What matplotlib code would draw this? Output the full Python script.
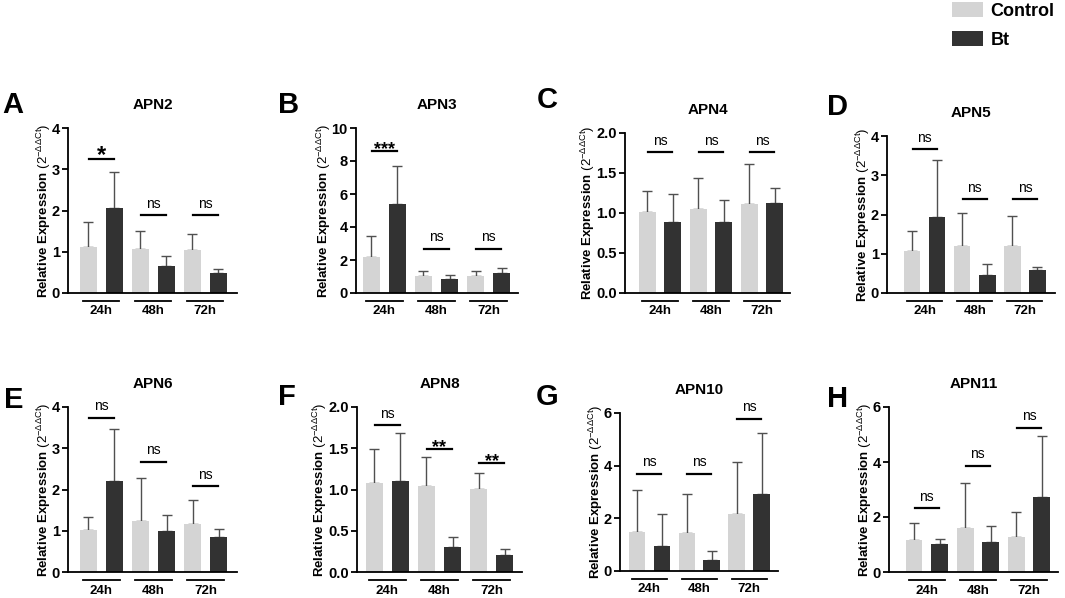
import matplotlib
matplotlib.use('Agg')
import matplotlib.pyplot as plt
from matplotlib.transforms import blended_transform_factory, offset_copy
import numpy as np

plt.rcParams['font.family'] = ['Liberation Sans', 'DejaVu Sans']
plt.rcParams['mathtext.fontset'] = 'custom'
plt.rcParams['mathtext.rm'] = 'Liberation Sans'
plt.rcParams['mathtext.bf'] = 'Liberation Sans:bold'
plt.rcParams['mathtext.it'] = 'Liberation Sans:italic'

# ---------------- data ----------------
times = ['24h', '48h', '72h']
genes = ['APN2', 'APN3', 'APN4', 'APN5', 'APN6', 'APN8', 'APN10', 'APN11']
letters = ['A', 'B', 'C', 'D', 'E', 'F', 'G', 'H']

control_mean = [
    [1.12, 1.06, 1.05],
    [2.18, 1.01, 1.01],
    [1.01, 1.05, 1.11],
    [1.08, 1.19, 1.20],
    [1.03, 1.24, 1.16],
    [1.08, 1.04, 1.01],
    [1.48, 1.44, 2.15],
    [1.15, 1.59, 1.27],
]
control_top = [
    [1.71, 1.50, 1.43],
    [3.43, 1.31, 1.35],
    [1.28, 1.44, 1.61],
    [1.58, 2.03, 1.95],
    [1.33, 2.29, 1.75],
    [1.49, 1.39, 1.20],
    [3.06, 2.91, 4.14],
    [1.78, 3.25, 2.20],
]
bt_mean = [
    [2.06, 0.66, 0.48],
    [5.41, 0.87, 1.23],
    [0.89, 0.89, 1.13],
    [1.93, 0.47, 0.58],
    [2.21, 0.99, 0.86],
    [1.10, 0.30, 0.21],
    [0.94, 0.43, 2.94],
    [1.01, 1.09, 2.71],
]
bt_top = [
    [2.93, 0.90, 0.58],
    [7.70, 1.07, 1.54],
    [1.24, 1.16, 1.31],
    [3.39, 0.74, 0.65],
    [3.46, 1.39, 1.05],
    [1.68, 0.43, 0.28],
    [2.15, 0.76, 5.24],
    [1.20, 1.68, 4.96],
]
sig_labels = [
    ['*', 'ns', 'ns'],
    ['***', 'ns', 'ns'],
    ['ns', 'ns', 'ns'],
    ['ns', 'ns', 'ns'],
    ['ns', 'ns', 'ns'],
    ['ns', '**', '**'],
    ['ns', 'ns', 'ns'],
    ['ns', 'ns', 'ns'],
]
sig_heights = [
    [3.24, 1.88, 1.88],
    [8.59, 2.69, 2.69],
    [1.76, 1.76, 1.76],
    [3.66, 2.39, 2.39],
    [3.73, 2.67, 2.08],
    [1.78, 1.49, 1.32],
    [3.68, 3.68, 5.78],
    [2.32, 3.85, 5.25],
]
y_max = [4, 10, 2.0, 4, 4, 2.0, 6, 6]
y_step = [1, 2, 0.5, 1, 1, 0.5, 2, 2]
y_decimals = [0, 0, 1, 0, 0, 1, 0, 0]

# ---------------- layout (pixels) ----------------
W, H = 1065, 598
ax_left = [68, 356, 625, 887, 68, 357, 620, 889]
ax_right = [237, 518, 790, 1055, 237, 522, 778, 1058]
ax_top = [128, 128, 133, 136, 407, 407, 413, 407]
ax_bottom = [293, 293, 293, 293, 572, 572, 571, 572]
xlims = [(-0.64, 2.61), (-0.54, 2.56), (-0.69, 2.55), (-0.75, 2.6),
         (-0.64, 2.6), (-0.58, 2.58), (-0.59, 2.58), (-0.74, 2.57)]
letter_pos = [(2, 113), (278, 113), (537, 108), (827, 115),
              (4, 408), (278, 405), (536, 405), (827, 407)]

ctrl_color = '#d4d4d4'
bt_color = '#323232'
err_color = '#505050'

fig = plt.figure(figsize=(W / 100, H / 100), dpi=100)

bw = 0.33
off = 0.25
handles = None
for i in range(8):
    l, r, t, b = ax_left[i], ax_right[i], ax_top[i], ax_bottom[i]
    ax = fig.add_axes([l / W, 1 - b / H, (r - l) / W, (b - t) / H])
    x = np.arange(len(times))
    cm = np.array(control_mean[i]); ct = np.array(control_top[i])
    bm = np.array(bt_mean[i]); btt = np.array(bt_top[i])
    b1 = ax.bar(x - off, cm, bw, color=ctrl_color, label='Control', zorder=2)
    b2 = ax.bar(x + off, bm, bw, color=bt_color, label='Bt', zorder=2)
    ax.errorbar(x - off, cm, yerr=[np.zeros(3), ct - cm], fmt='none',
                ecolor=err_color, elinewidth=1.0, capsize=3.5, capthick=1.0, zorder=1)
    ax.errorbar(x + off, bm, yerr=[np.zeros(3), btt - bm], fmt='none',
                ecolor=err_color, elinewidth=1.0, capsize=3.5, capthick=1.0, zorder=1)
    if handles is None:
        handles = [b1, b2]

    ax.set_xlim(*xlims[i])
    ax.set_ylim(0, y_max[i])
    ticks = np.arange(0, y_max[i] + 1e-9, y_step[i])
    ax.set_yticks(ticks)
    if y_decimals[i]:
        ax.set_yticklabels([f'{v:.1f}' for v in ticks])
    else:
        ax.set_yticklabels([f'{v:.0f}' for v in ticks])
    ax.spines['top'].set_visible(False)
    ax.spines['right'].set_visible(False)
    ax.spines['left'].set_linewidth(1.3)
    ax.spines['bottom'].set_linewidth(1.3)
    ax.tick_params(axis='y', length=4, width=1.3, labelsize=10.5, pad=2)
    for lab in ax.get_yticklabels():
        lab.set_fontweight('bold')
    ax.set_xticks(x)
    ax.set_xticklabels(times, fontsize=9.5, fontweight='bold')
    ax.tick_params(axis='x', length=0, pad=9)

    # group underlines below the axis
    trans = offset_copy(blended_transform_factory(ax.transData, ax.transAxes),
                        fig=fig, y=-8, units='dots')
    for xi in x:
        ax.plot([xi - 0.35, xi + 0.35], [0, 0], color='black', lw=1.3,
                transform=trans, clip_on=False)

    # significance
    for xi, lab, hgt in zip(x, sig_labels[i], sig_heights[i]):
        ax.plot([xi - 0.24, xi + 0.24], [hgt, hgt], color='black', lw=1.6,
                clip_on=False, zorder=3)
        if lab == 'ns':
            ax.annotate(lab, xy=(xi, hgt), xytext=(0, 5.5), textcoords='offset points',
                        ha='center', va='baseline', fontsize=10)
        else:
            fs = 17 if len(lab) == 1 else 13
            ax.annotate(lab, xy=(xi, hgt), xytext=(0, -2), textcoords='offset points',
                        ha='center', va='baseline', fontsize=fs, fontweight='bold')

    ax.set_title(genes[i], fontsize=11, fontweight='bold', pad=14)
    ax.set_ylabel(r'$\bf{Relative\ Expression}$ $\mathregular{(2^{-\Delta\Delta Ct})}$',
                  fontsize=9.5, labelpad=-1)

    lx, ly = letter_pos[i]
    fig.text(lx / W, 1 - ly / H, letters[i], fontsize=21, fontweight='bold',
             ha='left', va='baseline')

fig.legend(handles=handles, labels=['Control', 'Bt'], loc='upper left',
           bbox_to_anchor=(950 / W, 1.0), frameon=False,
           prop={'weight': 'bold', 'size': 13}, handlelength=1.75, handleheight=0.9,
           handletextpad=0.4, labelspacing=0.65, borderpad=0.1, borderaxespad=0.0)

fig.savefig('out.png', dpi=100)
